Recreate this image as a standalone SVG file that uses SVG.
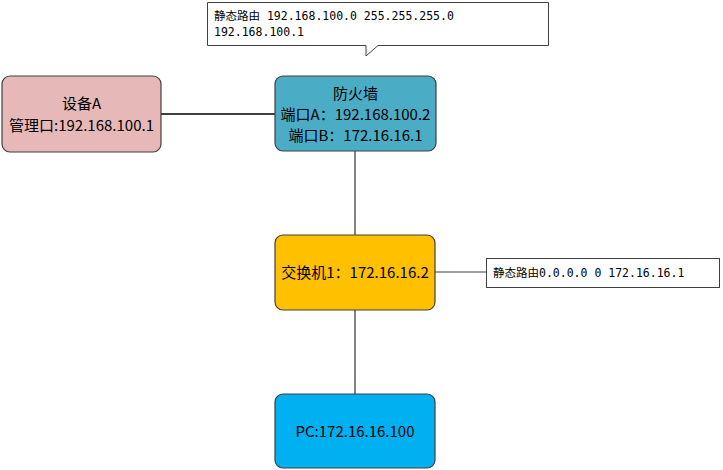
<svg xmlns="http://www.w3.org/2000/svg" width="723" height="470" viewBox="0 0 723 470">
<style>
.node{stroke:#404040;stroke-width:1.2}
.t{font-family:"Noto Sans CJK SC","Liberation Sans",sans-serif;font-size:15px;fill:#000;text-anchor:middle}
.c{font-family:"DejaVu Sans Mono","Noto Sans CJK SC",monospace;font-size:11.5px;fill:#000}
.callout{fill:#fff;stroke:#404040;stroke-width:1}
.conn{fill:none;stroke-width:1.5}
</style>
<rect width="723" height="470" fill="#fff"/>
<g id="connectors">
<line class="conn" x1="161" y1="114" x2="275" y2="114" stroke="#000"/>
<line class="conn" x1="355" y1="151" x2="355" y2="235" stroke="#595959"/>
<line class="conn" x1="435" y1="272" x2="486" y2="272" stroke="#7f7f7f"/>
<line class="conn" x1="355" y1="310" x2="355" y2="394" stroke="#595959"/>
</g>
<g id="callout-top">
<path class="callout" d="M207.5,2.5 H548.5 V45.5 H378 L366,56 V45.5 H207.5 Z"/>
<text class="c" x="214" y="20">静态路由 192.168.100.0 255.255.255.0</text>
<text class="c" x="214" y="36">192.168.100.1</text>
</g>
<g id="deviceA">
<rect class="node" x="2" y="76" width="159" height="76" rx="8" fill="#e6b9b8"/>
<text class="t" x="81.5" y="109">设备A</text>
<text class="t" x="81.5" y="131">管理口:192.168.100.1</text>
</g>
<g id="firewall">
<rect class="node" x="275" y="76" width="161" height="75" rx="8" fill="#4bacc6"/>
<text class="t" x="355.5" y="99">防火墙</text>
<text class="t" x="355.5" y="120">端口A：192.168.100.2</text>
<text class="t" x="355.5" y="141">端口B：172.16.16.1</text>
</g>
<g id="switch1">
<rect class="node" x="275" y="235" width="160" height="75" rx="8" fill="#ffc000"/>
<text class="t" x="355" y="278">交换机1：172.16.16.2</text>
</g>
<g id="callout-right">
<rect class="callout" x="486.5" y="258.5" width="233" height="29" stroke="#595959"/>
<text class="c" x="493" y="277">静态路由0.0.0.0 0 172.16.16.1</text>
</g>
<g id="pc">
<rect class="node" x="275" y="394" width="160" height="74" rx="8" fill="#00b0f0"/>
<text class="t" x="355" y="437">PC:172.16.16.100</text>
</g>
</svg>
